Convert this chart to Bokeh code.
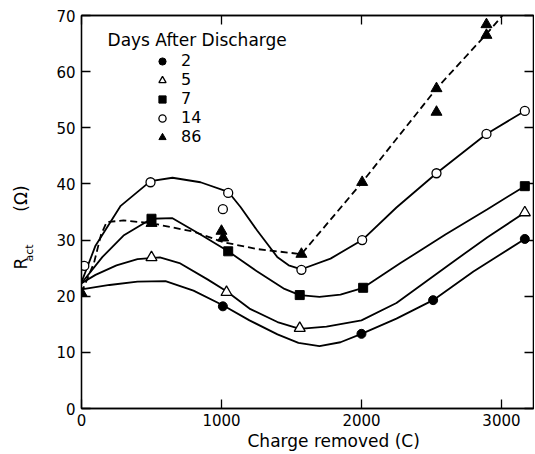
from bokeh.plotting import figure
from bokeh.layouts import row
from bokeh.models import (LinearAxis, FixedTicker, Label, Legend, LegendItem, Range1d, Title)
from bokeh.core.properties import value
from bokeh.embed import file_html
from bokeh.resources import INLINE
import math

FONT = "DejaVu Sans"

# ---------------- data ----------------
x_ticks = [0, 1000, 2000, 3000]
y_ticks = [0, 10, 20, 30, 40, 50, 60, 70]
days = ["2", "5", "7", "14", "86"]
legend_title = "Days After Discharge"
x_title = "Charge removed  (C)"
y_title_parts = ["R", "act", "(Ω)"]

# measured points
d2_x = [1010, 2000, 2512, 3167]
d2_y = [18.2, 13.3, 19.3, 30.2]
d5_x = [500, 1036, 1559, 3167]
d5_y = [26.9, 20.7, 14.3, 34.9]
d7_x = [500, 1048, 1559, 2012, 3167]
d7_y = [33.8, 28.0, 20.2, 21.5, 39.6]
d14_x = [20, 493, 1010, 1048, 1571, 2005, 2536, 2893, 3167]
d14_y = [25.4, 40.3, 35.5, 38.4, 24.7, 30.0, 41.9, 48.9, 53.0]
d86_x = [0, 500, 1000, 1012, 1571, 2005, 2536, 2536, 2893, 2893]
d86_y = [20.6, 33.0, 31.6, 30.4, 27.5, 40.3, 57.0, 52.8, 68.4, 66.5]

# hand-drawn fitted curves
c2_x = [0, 200, 400, 600, 800, 1010, 1200, 1400, 1550, 1700, 1850, 2000, 2250, 2512, 2800, 3167]
c2_y = [21.2, 22.0, 22.6, 22.7, 21.0, 18.4, 15.7, 13.2, 11.7, 11.1, 11.8, 13.3, 16.0, 19.3, 24.4, 30.2]
c5_x = [0, 100, 250, 400, 560, 700, 900, 1036, 1200, 1400, 1559, 1750, 2000, 2250, 2636, 2900, 3167]
c5_y = [22.3, 23.8, 25.5, 26.6, 26.9, 25.9, 23.0, 20.9, 17.8, 15.4, 14.2, 14.6, 15.7, 18.8, 25.8, 30.5, 34.9]
c7_x = [0, 150, 300, 500, 650, 850, 1048, 1250, 1450, 1559, 1700, 1850, 2012, 2279, 2600, 2900, 3167]
c7_y = [22.3, 27.0, 30.8, 33.8, 33.9, 31.0, 28.0, 24.5, 21.3, 20.2, 19.9, 20.3, 21.5, 25.9, 31.0, 35.5, 39.6]
c14_x = [0, 100, 280, 493, 650, 850, 1048, 1136, 1255, 1398, 1480, 1571, 1779, 2005, 2250, 2536, 2893, 3167]
c14_y = [22.5, 29.0, 36.1, 40.5, 41.1, 40.3, 38.6, 35.9, 31.7, 27.0, 25.5, 24.8, 26.7, 30.0, 35.8, 41.9, 48.9, 53.0]
c86_x = [0, 90, 140, 180, 300, 500, 800, 1017, 1255, 1571, 2005, 2536, 2893, 3007]
c86_y = [20.6, 26.0, 31.0, 33.2, 33.5, 33.0, 31.5, 29.6, 28.4, 27.5, 40.3, 57.0, 66.7, 70.0]

TOP, FH, BOT = 15, 393, 45

# ---------------- y-title strip ----------------
lab = figure(frame_width=40, frame_height=FH, x_range=Range1d(0, 40), y_range=Range1d(0, 70),
             output_backend="svg", toolbar_location=None,
             x_axis_location=None, y_axis_location=None,
             min_border_left=0, min_border_right=0, min_border_top=TOP, min_border_bottom=BOT)
lab.grid.visible = False
lab.outline_line_color = None
lab.text(x=[20.8], y=[25.8], text=[y_title_parts[0]], angle=math.pi / 2,
         text_align="center", text_baseline="middle", text_color="black",
         text_font=value(FONT), text_font_size=value("17px"))
lab.text(x=[28.5], y=[27.7], text=[y_title_parts[1]], angle=math.pi / 2,
         text_align="center", text_baseline="middle", text_color="black",
         text_font=value(FONT), text_font_size=value("11px"))
lab.text(x=[20.5], y=[37.4], text=[y_title_parts[2]], angle=math.pi / 2,
         text_align="center", text_baseline="middle", text_color="black",
         text_font=value(FONT), text_font_size=value("17px"))

# ---------------- main figure ----------------
p = figure(frame_width=452, frame_height=FH,
           x_range=Range1d(0, 3229), y_range=Range1d(0, 70),
           output_backend="svg", toolbar_location=None,
           min_border_left=41, min_border_top=TOP, min_border_right=1,
           min_border_bottom=BOT)
p.grid.visible = False
p.outline_line_color = "black"
p.outline_line_width = 1.3

for ax in (p.xaxis[0], p.yaxis[0]):
    ax.axis_line_width = 1.3
    ax.major_tick_line_width = 1.3
    ax.major_tick_in = 9
    ax.major_tick_out = 0
    ax.minor_tick_line_color = None
    ax.major_label_text_font = FONT
    ax.major_label_text_font_size = "15px"
    ax.major_label_text_color = "black"

p.xaxis[0].major_label_standoff = 5
p.yaxis[0].major_label_standoff = 6
p.xaxis[0].ticker = FixedTicker(ticks=x_ticks)
p.yaxis[0].ticker = FixedTicker(ticks=y_ticks)

p.add_layout(Title(text=x_title, align="left", offset=166, standoff=0,
                   text_font=FONT, text_font_size="17px", text_font_style="normal",
                   text_color="black"), "below")

for loc, tk in (("above", x_ticks), ("right", y_ticks)):
    ax = LinearAxis(ticker=FixedTicker(ticks=tk))
    ax.axis_line_width = 1.3
    ax.major_tick_line_width = 1.3
    ax.major_tick_in = 9
    ax.major_tick_out = 0
    ax.minor_tick_line_color = None
    ax.major_label_text_font_size = "1px"
    ax.major_label_text_color = None
    ax.major_label_standoff = 0
    p.add_layout(ax, loc)

# curves
lw = 1.8
p.line(c2_x, c2_y, line_color="black", line_width=lw)
p.line(c5_x, c5_y, line_color="black", line_width=lw)
p.line(c7_x, c7_y, line_color="black", line_width=lw)
p.line(c14_x, c14_y, line_color="black", line_width=lw)
p.line(c86_x, c86_y, line_color="black", line_width=lw, line_dash="7 4")

# markers
r2 = p.scatter(d2_x, d2_y, marker="circle", size=9, fill_color="black", line_color="black")
r5 = p.scatter(d5_x, d5_y, marker="triangle", size=11, fill_color="white", line_color="black", line_width=1.3)
r7 = p.scatter(d7_x, d7_y, marker="square", size=9, fill_color="black", line_color="black")
r14 = p.scatter(d14_x, d14_y, marker="circle", size=9, fill_color="white", line_color="black", line_width=1.3)
r86 = p.scatter(d86_x, d86_y, marker="triangle", size=11, fill_color="black", line_color="black")

legend = Legend(items=[LegendItem(label=d, renderers=[r]) for d, r in
                       zip(days, [r2, r5, r7, r14, r86])],
                location=(71, 262), padding=0, margin=0, spacing=0,
                glyph_width=20, glyph_height=18, label_height=18,
                label_standoff=9, border_line_color=None,
                background_fill_alpha=0,
                label_text_font=FONT, label_text_font_size="16px",
                label_text_color="black")
p.add_layout(legend)

p.add_layout(Label(x=186, y=65.7, text=legend_title, text_baseline="middle",
                   text_font=FONT, text_font_size="17px", text_color="black"))

layout = row(lab, p)
open("out.html", "w").write(file_html(layout, INLINE))
